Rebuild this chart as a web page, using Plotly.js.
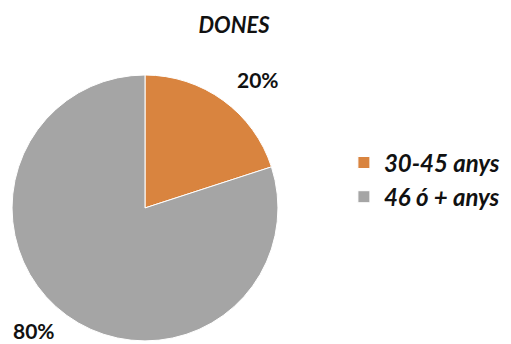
<!DOCTYPE html>
<html>
<head>
<meta charset="utf-8">
<script src="https://cdn.plot.ly/plotly-3.0.1.min.js"></script>
<style>html,body{margin:0;padding:0;background:#fff}#chart{width:511px;height:344px}</style>
</head>
<body>
<div id="chart"></div>
<script>
var categories = ["30-45 anys", "46 ó + anys"];
var values = [20, 80];
var colors = ["#D9843F", "#A5A5A5"];
var chartTitle = "DONES";

var total = values.reduce(function(a,b){return a+b;}, 0);
var pctText = values.map(function(v){ return Math.round(v/total*100) + "%"; });

var trace = {
  type: "pie",
  labels: categories.map(function(c){ return "<b><i>" + c + "</i></b>"; }),
  values: values,
  sort: false,
  direction: "clockwise",
  rotation: 0,
  textinfo: "none",
  hoverinfo: "label+percent",
  marker: { colors: colors, line: { color: "#ffffff", width: 1 } },
  domain: { x: [0.0235, 0.544], y: [0.009, 0.782] },
  showlegend: true
};

var layout = {
  width: 511, height: 344,
  margin: { l: 0, r: 0, t: 0, b: 0 },
  paper_bgcolor: "#ffffff",
  title: {
    text: "<b><i>" + chartTitle + "</i></b>",
    font: { family: "Lato, 'Open Sans', sans-serif", size: 22, color: "#111111" },
    x: 0.458, xanchor: "center", y: 0.926, yanchor: "middle"
  },
  legend: {
    x: 0.673, y: 0.477, xanchor: "left", yanchor: "middle",
    font: { family: "Lato, 'Open Sans', sans-serif", size: 24, color: "#111111" },
    itemwidth: 30, tracegroupgap: 0
  },
  annotations: [
    { text: "<b>" + pctText[0] + "</b>", xref: "paper", yref: "paper", x: 0.504, y: 0.769,
      xanchor: "center", yanchor: "middle",
      showarrow: false, font: { family: "Lato, sans-serif", size: 21, color: "#111111" } },
    { text: "<b>" + pctText[1] + "</b>", xref: "paper", yref: "paper", x: 0.067, y: 0.038,
      xanchor: "center", yanchor: "middle",
      showarrow: false, font: { family: "Lato, sans-serif", size: 21, color: "#111111" } }
  ]
};

Plotly.newPlot("chart", [trace], layout, { displayModeBar: false, staticPlot: true });
</script>
</body>
</html>
